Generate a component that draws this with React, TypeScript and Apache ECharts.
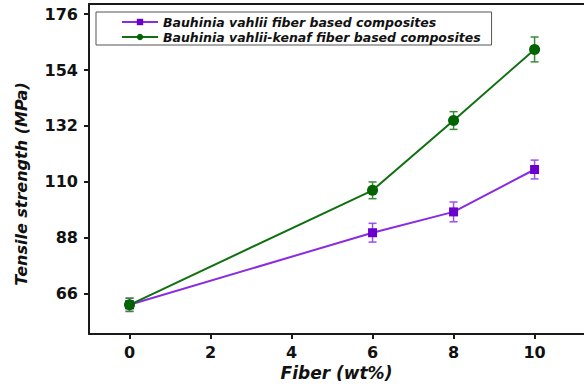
import React, { useEffect, useRef } from "react";
import * as echarts from "echarts";

const fiberWt = [0, 6, 8, 10];
const bvValues = [61.5, 89.9, 98.1, 114.8];
const bvErrors = [2.6, 3.7, 3.9, 3.7];
const bkValues = [61.5, 106.6, 134.1, 162.1];
const bkErrors = [2.6, 3.3, 3.5, 4.9];
const yTicks = [66, 88, 110, 132, 154, 176];
const xTicks = [0, 2, 4, 6, 8, 10];
const seriesNames = [
  "Bauhinia vahlii fiber based composites",
  "Bauhinia vahlii-kenaf fiber based composites",
];

const FONT = "DejaVu Sans, sans-serif";

function errorSeries(vals: number[], errs: number[], color: string, name: string) {
  return {
    type: "custom",
    name: name + " err",
    data: fiberWt.map((x, i) => [x, vals[i] - errs[i], vals[i] + errs[i]]),
    z: 3,
    renderItem: (_params: any, api: any) => {
      const lo = api.coord([api.value(0), api.value(1)]);
      const hi = api.coord([api.value(0), api.value(2)]);
      const w = 4;
      const st = { stroke: color, lineWidth: 1.5 };
      return {
        type: "group",
        children: [
          { type: "line", shape: { x1: lo[0], y1: lo[1], x2: hi[0], y2: hi[1] }, style: st },
          { type: "line", shape: { x1: lo[0] - w, y1: lo[1], x2: lo[0] + w, y2: lo[1] }, style: st },
          { type: "line", shape: { x1: hi[0] - w, y1: hi[1], x2: hi[0] + w, y2: hi[1] }, style: st },
        ],
      };
    },
    encode: { x: 0, y: [1, 2] },
    silent: true,
  };
}

export default function App() {
  const ref = useRef<HTMLDivElement>(null);
  useEffect(() => {
    if (!ref.current) return;
    const chart = echarts.init(ref.current, null, { renderer: "svg" });
    const axisLineStyle = { color: "#1a1a1a", width: 2 };
    chart.setOption({
      animation: false,
      backgroundColor: "#ffffff",
      grid: { left: 89, right: 0, top: 4, bottom: 57, containLabel: false },
      legend: {
        left: 96,
        top: 12,
        orient: "vertical",
        data: seriesNames,
        itemWidth: 36,
        itemHeight: 8,
        itemGap: 1,
        padding: [3, 11, 1, 25],
        borderColor: "#555",
        borderWidth: 1,
        textStyle: {
          fontFamily: FONT,
          fontWeight: "bold",
          fontStyle: "italic",
          fontSize: 12.5,
          lineHeight: 14,
          color: "#111",
        },
      },
      xAxis: [
        {
          type: "value",
          min: -1,
          max: 11.22,
          name: "Fiber (wt%)",
          nameLocation: "middle",
          nameGap: 29,
          nameTextStyle: {
            fontFamily: FONT,
            fontWeight: "bold",
            fontStyle: "italic",
            fontSize: 17,
            color: "#111",
          },
          axisLine: { show: true, onZero: false, lineStyle: axisLineStyle },
          axisTick: { show: true, length: 5, lineStyle: axisLineStyle, customValues: xTicks },
          axisLabel: {
            customValues: xTicks,
            margin: 10,
            fontFamily: FONT,
            fontWeight: "bold",
            fontSize: 16,
            color: "#111",
          },
          splitLine: { show: false },
        },
        {
          type: "value",
          position: "top",
          min: -1,
          max: 11.22,
          axisLine: { show: true, onZero: false, lineStyle: axisLineStyle },
          axisTick: { show: false },
          axisLabel: { show: false },
          splitLine: { show: false },
        },
      ],
      yAxis: {
        type: "value",
        min: 50,
        max: 180,
        axisLine: { show: true, onZero: false, lineStyle: axisLineStyle },
        axisTick: { show: true, length: 5, lineStyle: axisLineStyle, customValues: yTicks },
        axisLabel: {
          customValues: yTicks,
          margin: 11,
          fontFamily: FONT,
          fontWeight: "bold",
          fontSize: 16,
          color: "#111",
        },
        splitLine: { show: false },
      },
      graphic: [
        {
          type: "text",
          x: 21,
          y: 184,
          rotation: Math.PI / 2,
          style: {
            text: "Tensile strength (MPa)",
            align: "center",
            verticalAlign: "middle",
            fontFamily: FONT,
            fontWeight: "bold",
            fontStyle: "italic",
            fontSize: 16,
            fill: "#111",
          },
        },
      ],
      series: [
        errorSeries(bvValues, bvErrors, "#9b4ff0", seriesNames[0]),
        {
          type: "line",
          name: seriesNames[0],
          data: fiberWt.map((x, i) => [x, bvValues[i]]),
          symbol: "rect",
          symbolSize: 9,
          itemStyle: { color: "#6a00cc" },
          lineStyle: { color: "#8a2be2", width: 2 },
          z: 4,
        },
        errorSeries(bkValues, bkErrors, "#3a8a3a", seriesNames[1]),
        {
          type: "line",
          name: seriesNames[1],
          data: fiberWt.map((x, i) => [x, bkValues[i]]),
          symbol: "circle",
          symbolSize: 11,
          itemStyle: { color: "#006400" },
          lineStyle: { color: "#107010", width: 2 },
          z: 5,
        },
      ],
    });
    return () => chart.dispose();
  }, []);
  return <div ref={ref} style={{ width: 584, height: 391, position: "absolute", left: 0, top: 0 }} />;
}
